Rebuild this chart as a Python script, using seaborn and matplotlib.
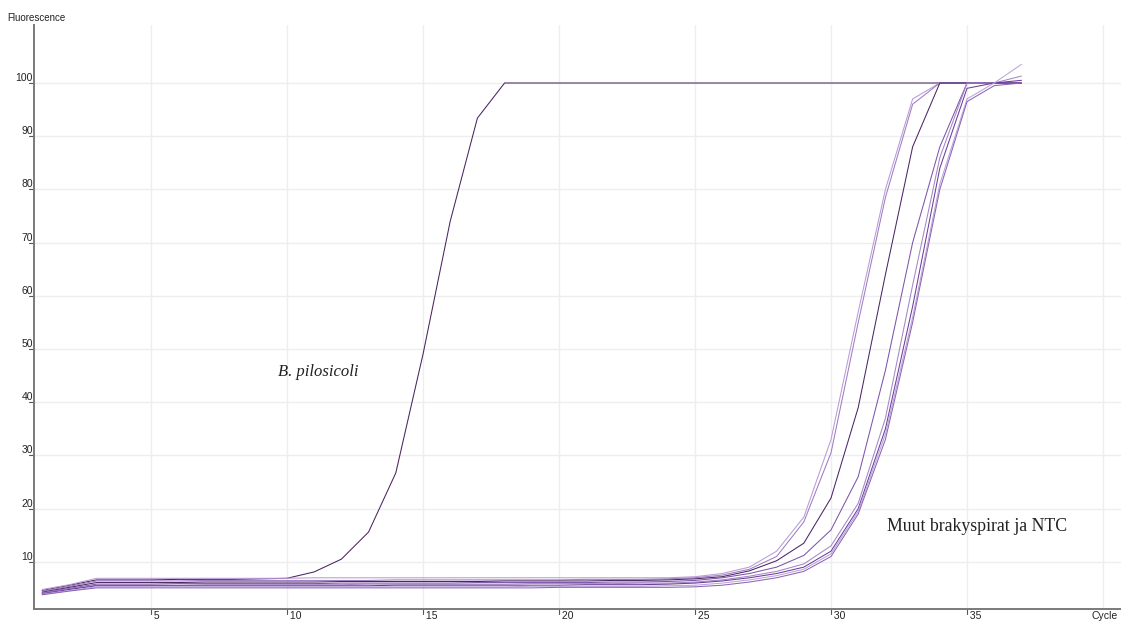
import numpy as np
import pandas as pd
import matplotlib
matplotlib.use('Agg')
import matplotlib.pyplot as plt
import matplotlib.transforms as mtransforms
import seaborn as sns

# qPCR amplification curves, cycles 1-37
cycles = list(range(1, 38))

pilosicoli = [4.6, 5.6, 6.6, 6.6, 6.6, 6.7, 6.7, 6.7, 6.8, 6.9, 8.1, 10.5, 15.6, 26.7,
              49.0, 74.0, 93.4] + [100.0] * 20

other_a1 = [4.8, 5.7, 6.9, 6.9, 6.9, 6.9, 6.9, 6.9, 6.9, 6.9, 7.0, 7.0, 7.0, 7.0, 7.0, 7.0,
            7.0, 7.0, 7.0, 7.0, 7.0, 7.0, 7.0, 7.0,
            7.2, 7.8, 9.0, 12.0, 18.4, 33.0, 57.0, 80.0, 97.0, 100.0, 100.0, 100.0, 100.0]
other_a2 = [4.5, 5.4, 6.4, 6.4, 6.4, 6.4, 6.5, 6.5, 6.5, 6.5, 6.5, 6.5, 6.5, 6.6, 6.6, 6.6,
            6.6, 6.6, 6.6, 6.6, 6.7, 6.7, 6.7, 6.8,
            7.0, 7.5, 8.6, 11.0, 17.5, 30.5, 55.0, 78.5, 96.0, 100.0, 100.0, 100.0, 100.0]
other_a3 = [4.3, 5.2, 6.1, 6.1, 6.1, 6.1, 6.2, 6.2, 6.2, 6.2, 6.2, 6.3, 6.3, 6.3, 6.3, 6.3,
            6.3, 6.4, 6.4, 6.4, 6.4, 6.5, 6.5, 6.6,
            6.8, 7.2, 8.3, 10.2, 13.5, 22.0, 39.0, 64.0, 88.0, 100.0, 100.0, 100.0, 100.0]
other_b1 = [4.2, 5.0, 5.8, 5.8, 5.8, 5.9, 5.9, 5.9, 5.9, 5.9, 5.9, 6.0, 6.0, 6.0, 6.0, 6.0,
            6.1, 6.1, 6.1, 6.1, 6.1, 6.2, 6.2, 6.3,
            6.5, 7.0, 7.8, 9.0, 11.2, 16.0, 26.0, 46.0, 70.0, 88.0, 100.0, 100.0, 100.0]
other_b2 = [4.1, 4.9, 5.6, 5.6, 5.6, 5.6, 5.7, 5.7, 5.7, 5.7, 5.7, 5.7, 5.8, 5.8, 5.8, 5.8,
            5.8, 5.8, 5.9, 5.9, 5.9, 5.9, 6.0, 6.0,
            6.2, 6.6, 7.3, 8.2, 9.6, 13.0, 21.0, 37.0, 62.0, 86.0, 100.0, 100.0, 101.3]
other_b3 = [4.0, 4.8, 5.5, 5.5, 5.5, 5.5, 5.5, 5.5, 5.5, 5.5, 5.5, 5.5, 5.5, 5.6, 5.6, 5.6,
            5.6, 5.6, 5.6, 5.6, 5.7, 5.7, 5.7, 5.8,
            6.0, 6.4, 7.0, 7.8, 9.0, 12.0, 20.0, 35.0, 58.0, 84.0, 99.0, 100.0, 100.5]
other_b4 = [3.9, 4.6, 5.3, 5.3, 5.3, 5.3, 5.3, 5.3, 5.3, 5.3, 5.3, 5.3, 5.3, 5.3, 5.3, 5.3,
            5.3, 5.3, 5.4, 5.4, 5.4, 5.4, 5.4, 5.5,
            5.6, 6.0, 6.6, 7.4, 8.6, 11.5, 19.5, 34.0, 56.0, 81.0, 97.0, 100.0, 103.5]
other_b5 = [3.8, 4.5, 5.1, 5.1, 5.1, 5.1, 5.1, 5.1, 5.1, 5.1, 5.1, 5.1, 5.1, 5.1, 5.1, 5.1,
            5.1, 5.1, 5.1, 5.2, 5.2, 5.2, 5.2, 5.2,
            5.3, 5.6, 6.2, 7.0, 8.2, 11.0, 19.0, 33.0, 55.0, 80.0, 96.5, 99.5, 100.0]

samples = {
    'pilosicoli': pilosicoli,
    'a1': other_a1, 'a2': other_a2, 'a3': other_a3,
    'b1': other_b1, 'b2': other_b2, 'b3': other_b3, 'b4': other_b4, 'b5': other_b5,
}
colors = {
    'pilosicoli': '#4a235f',
    'a1': '#b99bd6', 'a2': '#9f7cc4', 'a3': '#4b2565',
    'b1': '#7d55a8', 'b2': '#a486c8', 'b3': '#6a3d9a', 'b4': '#bba3da', 'b5': '#8c64b8',
}

x_ticks = [5, 10, 15, 20, 25, 30, 35]
y_ticks = [10, 20, 30, 40, 50, 60, 70, 80, 90, 100]

rows = []
for name, vals in samples.items():
    for c, v in zip(cycles, vals):
        rows.append({'sample': name, 'cycle': c, 'fluor': v})
df = pd.DataFrame(rows)

sns.set_style('white')
plt.rcParams['font.family'] = ['Liberation Sans', 'DejaVu Sans']

fig = plt.figure(figsize=(11.21, 6.24), dpi=100)
ax = fig.add_axes([34 / 1121, 15 / 624, 1 - 34 / 1121, (609 - 25) / 624])

# light grid
for x in x_ticks + [40]:
    ax.axvline(x, color='#eeeef1', lw=1.0, zorder=0)
for y in y_ticks:
    ax.axhline(y, color='#eeeef1', lw=1.0, zorder=0)

sns.lineplot(data=df, x='cycle', y='fluor', hue='sample', palette=colors,
             estimator=None, legend=False, lw=0.75, ax=ax)

ax.set_xlim(0.7, 40.66)
ax.set_ylim(1.13, 110.9)
ax.set_xlabel('')
ax.set_ylabel('')
ax.set_xticks([])
ax.set_yticks([])

for s in ['top', 'right']:
    ax.spines[s].set_visible(False)
for s in ['left', 'bottom']:
    ax.spines[s].set_color('#7a7a7a')
    ax.spines[s].set_linewidth(1.4)

# tick marks and labels in the instrument-software style
xform = mtransforms.blended_transform_factory(ax.transData, ax.transAxes)
yform = mtransforms.blended_transform_factory(ax.transAxes, ax.transData)
for x in x_ticks:
    ax.plot([x, x], [0, -0.008], transform=xform, color='#555555', lw=0.8, clip_on=False)
    ax.text(x, -0.003, ' ' + str(x), transform=xform, ha='left', va='top',
            fontsize=7.5, color='#222222')
for y in y_ticks:
    ax.plot([-0.005, 0], [y, y], transform=yform, color='#555555', lw=0.8, clip_on=False)
    ax.text(-0.001, y, str(y), transform=yform, ha='right', va='bottom',
            fontsize=7.5, color='#222222')

ax.text(0.997, -0.003, 'Cycle', transform=ax.transAxes, ha='right', va='top',
        fontsize=7.5, color='#222222')
fig.text(7 / 1121, 1 - 18 / 624, 'Fluorescence', ha='left', va='center',
         fontsize=7, color='#222222')

ax.text(9.67, 45.7, 'B. pilosicoli', ha='left', va='center', fontsize=12,
        fontstyle='italic', family='Liberation Serif', color='#222222')
ax.text(32.06, 16.7, 'Muut brakyspirat ja NTC', ha='left', va='center', fontsize=12.8,
        family='Liberation Serif', color='#222222')

fig.savefig('out.png', dpi=100)
